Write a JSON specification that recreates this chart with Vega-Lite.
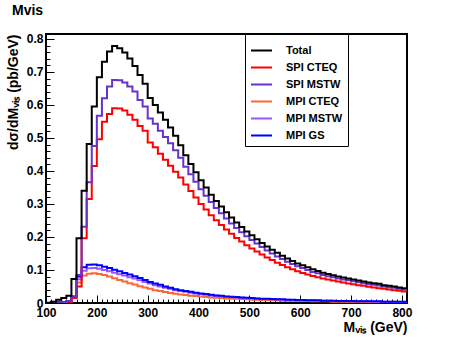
{
"$schema": "https://vega.github.io/schema/vega-lite/v6.json",
"width": 361, "height": 269,
"autosize": {"type": "none"},
"padding": {"left": 46, "top": 34, "right": 45, "bottom": 35},
"background": "white",
"config": {"view": {"stroke": "black", "strokeWidth": 2}, "font": "Liberation Sans"},
"title": {"text": "Mvis", "anchor": "start", "frame": "group", "dx": -34, "offset": 15, "fontSize": 14, "fontWeight": "bold", "font": "Liberation Sans", "color": "black"},
"data": {"values": [
{"m":100,"Total":0.001,"SPI CTEQ":0,"SPI MSTW":0,"MPI CTEQ":0,"MPI MSTW":0,"MPI GS":0},
{"m":110,"Total":0.004,"SPI CTEQ":0,"SPI MSTW":0,"MPI CTEQ":0.001,"MPI MSTW":0.001,"MPI GS":0.001},
{"m":120,"Total":0.010,"SPI CTEQ":0,"SPI MSTW":0.001,"MPI CTEQ":0.001,"MPI MSTW":0.002,"MPI GS":0.002},
{"m":130,"Total":0.015,"SPI CTEQ":0.001,"SPI MSTW":0.002,"MPI CTEQ":0.002,"MPI MSTW":0.003,"MPI GS":0.003},
{"m":140,"Total":0.022,"SPI CTEQ":0.003,"SPI MSTW":0.005,"MPI CTEQ":0.004,"MPI MSTW":0.005,"MPI GS":0.005},
{"m":150,"Total":0.073,"SPI CTEQ":0.015,"SPI MSTW":0.020,"MPI CTEQ":0.015,"MPI MSTW":0.018,"MPI GS":0.020},
{"m":160,"Total":0.196,"SPI CTEQ":0.050,"SPI MSTW":0.085,"MPI CTEQ":0.062,"MPI MSTW":0.072,"MPI GS":0.080},
{"m":170,"Total":0.340,"SPI CTEQ":0.196,"SPI MSTW":0.231,"MPI CTEQ":0.083,"MPI MSTW":0.098,"MPI GS":0.108},
{"m":180,"Total":0.482,"SPI CTEQ":0.315,"SPI MSTW":0.366,"MPI CTEQ":0.089,"MPI MSTW":0.105,"MPI GS":0.116},
{"m":190,"Total":0.595,"SPI CTEQ":0.415,"SPI MSTW":0.476,"MPI CTEQ":0.090,"MPI MSTW":0.106,"MPI GS":0.117},
{"m":200,"Total":0.684,"SPI CTEQ":0.496,"SPI MSTW":0.567,"MPI CTEQ":0.088,"MPI MSTW":0.104,"MPI GS":0.114},
{"m":210,"Total":0.731,"SPI CTEQ":0.549,"SPI MSTW":0.620,"MPI CTEQ":0.085,"MPI MSTW":0.100,"MPI GS":0.110},
{"m":220,"Total":0.762,"SPI CTEQ":0.573,"SPI MSTW":0.656,"MPI CTEQ":0.080,"MPI MSTW":0.096,"MPI GS":0.106},
{"m":230,"Total":0.779,"SPI CTEQ":0.590,"SPI MSTW":0.676,"MPI CTEQ":0.075,"MPI MSTW":0.092,"MPI GS":0.101},
{"m":240,"Total":0.772,"SPI CTEQ":0.589,"SPI MSTW":0.675,"MPI CTEQ":0.070,"MPI MSTW":0.087,"MPI GS":0.096},
{"m":250,"Total":0.759,"SPI CTEQ":0.583,"SPI MSTW":0.668,"MPI CTEQ":0.065,"MPI MSTW":0.083,"MPI GS":0.091},
{"m":260,"Total":0.741,"SPI CTEQ":0.570,"SPI MSTW":0.656,"MPI CTEQ":0.060,"MPI MSTW":0.078,"MPI GS":0.086},
{"m":270,"Total":0.718,"SPI CTEQ":0.555,"SPI MSTW":0.641,"MPI CTEQ":0.056,"MPI MSTW":0.074,"MPI GS":0.081},
{"m":280,"Total":0.691,"SPI CTEQ":0.536,"SPI MSTW":0.615,"MPI CTEQ":0.051,"MPI MSTW":0.069,"MPI GS":0.076},
{"m":290,"Total":0.664,"SPI CTEQ":0.522,"SPI MSTW":0.595,"MPI CTEQ":0.047,"MPI MSTW":0.064,"MPI GS":0.070},
{"m":300,"Total":0.621,"SPI CTEQ":0.486,"SPI MSTW":0.559,"MPI CTEQ":0.043,"MPI MSTW":0.059,"MPI GS":0.064},
{"m":310,"Total":0.600,"SPI CTEQ":0.472,"SPI MSTW":0.543,"MPI CTEQ":0.039,"MPI MSTW":0.054,"MPI GS":0.059},
{"m":320,"Total":0.577,"SPI CTEQ":0.452,"SPI MSTW":0.522,"MPI CTEQ":0.036,"MPI MSTW":0.050,"MPI GS":0.055},
{"m":330,"Total":0.555,"SPI CTEQ":0.434,"SPI MSTW":0.503,"MPI CTEQ":0.033,"MPI MSTW":0.046,"MPI GS":0.050},
{"m":340,"Total":0.532,"SPI CTEQ":0.416,"SPI MSTW":0.484,"MPI CTEQ":0.030,"MPI MSTW":0.043,"MPI GS":0.046},
{"m":350,"Total":0.507,"SPI CTEQ":0.398,"SPI MSTW":0.463,"MPI CTEQ":0.028,"MPI MSTW":0.039,"MPI GS":0.042},
{"m":360,"Total":0.478,"SPI CTEQ":0.380,"SPI MSTW":0.440,"MPI CTEQ":0.026,"MPI MSTW":0.036,"MPI GS":0.039},
{"m":370,"Total":0.448,"SPI CTEQ":0.359,"SPI MSTW":0.413,"MPI CTEQ":0.024,"MPI MSTW":0.034,"MPI GS":0.036},
{"m":380,"Total":0.421,"SPI CTEQ":0.339,"SPI MSTW":0.390,"MPI CTEQ":0.022,"MPI MSTW":0.031,"MPI GS":0.034},
{"m":390,"Total":0.396,"SPI CTEQ":0.320,"SPI MSTW":0.367,"MPI CTEQ":0.021,"MPI MSTW":0.029,"MPI GS":0.031},
{"m":400,"Total":0.372,"SPI CTEQ":0.300,"SPI MSTW":0.345,"MPI CTEQ":0.020,"MPI MSTW":0.027,"MPI GS":0.029},
{"m":410,"Total":0.350,"SPI CTEQ":0.283,"SPI MSTW":0.325,"MPI CTEQ":0.018,"MPI MSTW":0.025,"MPI GS":0.027},
{"m":420,"Total":0.328,"SPI CTEQ":0.266,"SPI MSTW":0.306,"MPI CTEQ":0.017,"MPI MSTW":0.023,"MPI GS":0.025},
{"m":430,"Total":0.309,"SPI CTEQ":0.251,"SPI MSTW":0.288,"MPI CTEQ":0.016,"MPI MSTW":0.022,"MPI GS":0.023},
{"m":440,"Total":0.292,"SPI CTEQ":0.236,"SPI MSTW":0.272,"MPI CTEQ":0.015,"MPI MSTW":0.020,"MPI GS":0.022},
{"m":450,"Total":0.275,"SPI CTEQ":0.223,"SPI MSTW":0.256,"MPI CTEQ":0.014,"MPI MSTW":0.019,"MPI GS":0.020},
{"m":460,"Total":0.259,"SPI CTEQ":0.210,"SPI MSTW":0.241,"MPI CTEQ":0.013,"MPI MSTW":0.018,"MPI GS":0.019},
{"m":470,"Total":0.244,"SPI CTEQ":0.197,"SPI MSTW":0.227,"MPI CTEQ":0.013,"MPI MSTW":0.017,"MPI GS":0.018},
{"m":480,"Total":0.230,"SPI CTEQ":0.186,"SPI MSTW":0.214,"MPI CTEQ":0.012,"MPI MSTW":0.016,"MPI GS":0.017},
{"m":490,"Total":0.217,"SPI CTEQ":0.175,"SPI MSTW":0.202,"MPI CTEQ":0.011,"MPI MSTW":0.015,"MPI GS":0.016},
{"m":500,"Total":0.205,"SPI CTEQ":0.165,"SPI MSTW":0.191,"MPI CTEQ":0.010,"MPI MSTW":0.014,"MPI GS":0.015},
{"m":510,"Total":0.193,"SPI CTEQ":0.156,"SPI MSTW":0.180,"MPI CTEQ":0.010,"MPI MSTW":0.013,"MPI GS":0.014},
{"m":520,"Total":0.182,"SPI CTEQ":0.147,"SPI MSTW":0.170,"MPI CTEQ":0.009,"MPI MSTW":0.012,"MPI GS":0.013},
{"m":530,"Total":0.171,"SPI CTEQ":0.138,"SPI MSTW":0.159,"MPI CTEQ":0.009,"MPI MSTW":0.012,"MPI GS":0.013},
{"m":540,"Total":0.161,"SPI CTEQ":0.130,"SPI MSTW":0.150,"MPI CTEQ":0.008,"MPI MSTW":0.011,"MPI GS":0.012},
{"m":550,"Total":0.152,"SPI CTEQ":0.122,"SPI MSTW":0.141,"MPI CTEQ":0.008,"MPI MSTW":0.011,"MPI GS":0.011},
{"m":560,"Total":0.143,"SPI CTEQ":0.115,"SPI MSTW":0.133,"MPI CTEQ":0.007,"MPI MSTW":0.010,"MPI GS":0.011},
{"m":570,"Total":0.135,"SPI CTEQ":0.108,"SPI MSTW":0.125,"MPI CTEQ":0.007,"MPI MSTW":0.010,"MPI GS":0.010},
{"m":580,"Total":0.127,"SPI CTEQ":0.102,"SPI MSTW":0.118,"MPI CTEQ":0.007,"MPI MSTW":0.009,"MPI GS":0.010},
{"m":590,"Total":0.120,"SPI CTEQ":0.096,"SPI MSTW":0.111,"MPI CTEQ":0.006,"MPI MSTW":0.009,"MPI GS":0.009},
{"m":600,"Total":0.114,"SPI CTEQ":0.091,"SPI MSTW":0.106,"MPI CTEQ":0.006,"MPI MSTW":0.008,"MPI GS":0.009},
{"m":610,"Total":0.108,"SPI CTEQ":0.086,"SPI MSTW":0.100,"MPI CTEQ":0.006,"MPI MSTW":0.008,"MPI GS":0.008},
{"m":620,"Total":0.102,"SPI CTEQ":0.082,"SPI MSTW":0.094,"MPI CTEQ":0.005,"MPI MSTW":0.008,"MPI GS":0.008},
{"m":630,"Total":0.097,"SPI CTEQ":0.078,"SPI MSTW":0.090,"MPI CTEQ":0.005,"MPI MSTW":0.007,"MPI GS":0.008},
{"m":640,"Total":0.092,"SPI CTEQ":0.074,"SPI MSTW":0.085,"MPI CTEQ":0.005,"MPI MSTW":0.007,"MPI GS":0.007},
{"m":650,"Total":0.088,"SPI CTEQ":0.071,"SPI MSTW":0.081,"MPI CTEQ":0.005,"MPI MSTW":0.007,"MPI GS":0.007},
{"m":660,"Total":0.084,"SPI CTEQ":0.068,"SPI MSTW":0.078,"MPI CTEQ":0.004,"MPI MSTW":0.006,"MPI GS":0.007},
{"m":670,"Total":0.080,"SPI CTEQ":0.065,"SPI MSTW":0.074,"MPI CTEQ":0.004,"MPI MSTW":0.006,"MPI GS":0.006},
{"m":680,"Total":0.077,"SPI CTEQ":0.062,"SPI MSTW":0.071,"MPI CTEQ":0.004,"MPI MSTW":0.006,"MPI GS":0.006},
{"m":690,"Total":0.074,"SPI CTEQ":0.059,"SPI MSTW":0.069,"MPI CTEQ":0.004,"MPI MSTW":0.005,"MPI GS":0.006},
{"m":700,"Total":0.071,"SPI CTEQ":0.057,"SPI MSTW":0.066,"MPI CTEQ":0.004,"MPI MSTW":0.005,"MPI GS":0.006},
{"m":710,"Total":0.068,"SPI CTEQ":0.054,"SPI MSTW":0.063,"MPI CTEQ":0.004,"MPI MSTW":0.005,"MPI GS":0.005},
{"m":720,"Total":0.065,"SPI CTEQ":0.052,"SPI MSTW":0.060,"MPI CTEQ":0.003,"MPI MSTW":0.005,"MPI GS":0.005},
{"m":730,"Total":0.062,"SPI CTEQ":0.049,"SPI MSTW":0.057,"MPI CTEQ":0.003,"MPI MSTW":0.005,"MPI GS":0.005},
{"m":740,"Total":0.060,"SPI CTEQ":0.047,"SPI MSTW":0.055,"MPI CTEQ":0.003,"MPI MSTW":0.004,"MPI GS":0.005},
{"m":750,"Total":0.058,"SPI CTEQ":0.045,"SPI MSTW":0.053,"MPI CTEQ":0.003,"MPI MSTW":0.004,"MPI GS":0.005},
{"m":760,"Total":0.054,"SPI CTEQ":0.043,"SPI MSTW":0.050,"MPI CTEQ":0.003,"MPI MSTW":0.004,"MPI GS":0.004},
{"m":770,"Total":0.052,"SPI CTEQ":0.041,"SPI MSTW":0.048,"MPI CTEQ":0.003,"MPI MSTW":0.004,"MPI GS":0.004},
{"m":780,"Total":0.050,"SPI CTEQ":0.039,"SPI MSTW":0.046,"MPI CTEQ":0.003,"MPI MSTW":0.004,"MPI GS":0.004},
{"m":790,"Total":0.047,"SPI CTEQ":0.037,"SPI MSTW":0.043,"MPI CTEQ":0.003,"MPI MSTW":0.003,"MPI GS":0.004},
{"m":800,"Total":0.045,"SPI CTEQ":0.035,"SPI MSTW":0.041,"MPI CTEQ":0.002,"MPI MSTW":0.003,"MPI GS":0.004},
{"m":810,"Total":0.045,"SPI CTEQ":0.035,"SPI MSTW":0.041,"MPI CTEQ":0.002,"MPI MSTW":0.003,"MPI GS":0.004}
]},
"transform": [{"fold": ["MPI CTEQ", "MPI MSTW", "MPI GS", "SPI CTEQ", "SPI MSTW", "Total"], "as": ["series", "v"]}],
"layer": [
{
"mark": {"type": "line", "interpolate": "step-after", "strokeWidth": 2, "clip": true},
"encoding": {
"x": {"field": "m", "type": "quantitative", "scale": {"domain": [100, 810], "nice": false, "zero": false},
"axis": {"orient": "bottom", "values": [100,200,300,400,500,600,700,800], "format": "d", "tickSize": -8, "tickColor": "black", "tickWidth": 1, "labelPadding": 12, "labelFlush": false, "labelFont": "Liberation Sans", "labelFontWeight": "bold", "labelFontSize": 12, "labelColor": "black", "domain": false, "grid": false, "title": "Mᵥᵢₛ (GeV)", "titleAnchor": "end", "titleFont": "Liberation Sans", "titleFontWeight": "bold", "titleFontSize": 14, "titleColor": "black", "titlePadding": 2}},
"y": {"field": "v", "type": "quantitative", "scale": {"domain": [0, 0.815], "nice": false},
"axis": {"orient": "left", "values": [0,0.1,0.2,0.3,0.4,0.5,0.6,0.7,0.8], "format": ".1~f", "tickSize": -8, "tickColor": "black", "tickWidth": 1, "labelPadding": 11, "labelFlush": false, "labelFont": "Liberation Sans", "labelFontWeight": "bold", "labelFontSize": 12, "labelColor": "black", "domain": false, "grid": false, "title": "dσ/dMᵥᵢₛ (pb/GeV)", "titleAnchor": "end", "titleFont": "Liberation Sans", "titleFontWeight": "bold", "titleFontSize": 14, "titleColor": "black", "titlePadding": 6}},
"color": {"field": "series", "type": "nominal",
"scale": {"domain": ["Total", "SPI CTEQ", "SPI MSTW", "MPI CTEQ", "MPI MSTW", "MPI GS"], "range": ["#000000", "#ff0000", "#6633cc", "#ff6633", "#9955ff", "#0000ff"]},
"legend": {"orient": "none", "legendX": 199, "legendY": 0, "title": null, "symbolType": "stroke", "symbolSize": 441, "symbolStrokeWidth": 2, "labelFont": "Liberation Sans", "labelFontWeight": "bold", "labelFontSize": 11, "labelColor": "black", "labelOffset": 13, "fillColor": "white", "strokeColor": "black", "padding": 5, "rowPadding": 0, "labelExpr": "pad(datum.label, 27, '\u00a0', 'right')"}}
}
},
{
"mark": {"type": "line", "opacity": 0},
"encoding": {
"x": {"field": "m", "type": "quantitative",
"axis": {"orient": "bottom", "values": [110,120,130,140,150,160,170,180,190,210,220,230,240,250,260,270,280,290,310,320,330,340,350,360,370,380,390,410,420,430,440,450,460,470,480,490,510,520,530,540,550,560,570,580,590,610,620,630,640,650,660,670,680,690,710,720,730,740,750,760,770,780,790], "tickSize": -4, "tickColor": "black", "tickWidth": 1, "labels": false, "domain": false, "grid": false, "title": null}},
"y": {"field": "v", "type": "quantitative",
"axis": {"orient": "left", "values": [0.02,0.04,0.06,0.08,0.12,0.14,0.16,0.18,0.22,0.24,0.26,0.28,0.32,0.34,0.36,0.38,0.42,0.44,0.46,0.48,0.52,0.54,0.56,0.58,0.62,0.64,0.66,0.68,0.72,0.74,0.76,0.78], "tickSize": -4, "tickColor": "black", "tickWidth": 1, "labels": false, "domain": false, "grid": false, "title": null}}
}
}
],
"resolve": {"axis": {"x": "independent", "y": "independent"}}
}
